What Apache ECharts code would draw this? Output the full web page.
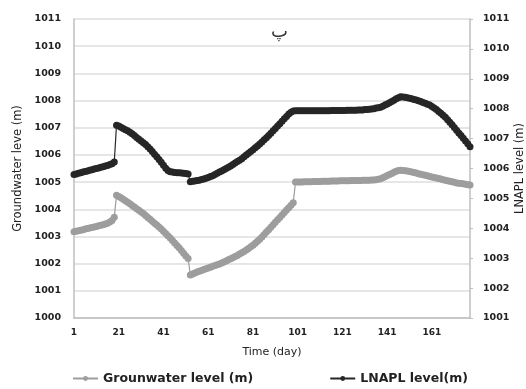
<!DOCTYPE html>
<html><head><meta charset="utf-8">
<script src="https://cdn.jsdelivr.net/npm/echarts@6/dist/echarts.min.js"></script>
<style>html,body{margin:0;padding:0;background:#fff}#c{width:526px;height:389px}</style>
</head><body><div id="c"></div>
<script>
// Days 1..178
var days = [];
for (var i = 1; i <= 178; i++) days.push(String(i));

// Groundwater level (m), left axis
var groundwater = [
1003.17,1003.19,1003.21,1003.23,1003.25,1003.27,1003.29,1003.31,1003.33,1003.35,
1003.37,1003.39,1003.41,1003.43,1003.46,1003.49,1003.53,1003.59,1003.71,
1004.52,1004.47,1004.42,1004.37,1004.31,1004.26,1004.20,1004.14,1004.08,1004.02,
1003.96,1003.90,1003.84,1003.77,1003.70,1003.63,1003.56,1003.49,1003.42,1003.35,
1003.27,1003.19,1003.11,1003.03,1002.94,1002.85,1002.76,1002.67,1002.58,1002.48,
1002.38,1002.28,1002.19,
1001.58,1001.62,1001.66,1001.69,1001.72,1001.75,1001.78,1001.81,1001.84,1001.87,
1001.90,1001.93,1001.96,1001.99,1002.02,1002.06,1002.10,1002.14,1002.18,1002.22,
1002.26,1002.30,1002.35,1002.40,1002.45,1002.50,1002.56,1002.62,1002.68,1002.75,
1002.82,1002.90,1002.98,1003.07,1003.16,1003.25,1003.34,1003.43,1003.52,1003.61,
1003.70,1003.79,1003.88,1003.97,1004.06,1004.15,1004.24,
1005.00,1005.00,1005.00,1005.00,1005.01,1005.01,1005.01,1005.01,1005.02,1005.02,
1005.02,1005.02,1005.03,1005.03,1005.03,1005.03,1005.04,1005.04,1005.04,1005.04,
1005.05,1005.05,1005.05,1005.05,1005.05,1005.06,1005.06,1005.06,1005.06,1005.06,
1005.07,1005.07,1005.07,1005.07,1005.08,1005.08,1005.09,1005.10,1005.12,
1005.16,1005.20,1005.24,1005.28,1005.32,1005.36,1005.40,1005.43,1005.44,
1005.43,1005.42,1005.41,1005.39,1005.37,1005.35,1005.33,1005.31,1005.29,1005.27,1005.25,1005.23,1005.21,
1005.19,1005.17,1005.15,1005.13,1005.11,1005.09,1005.07,1005.05,1005.03,1005.01,
1004.99,1004.97,1004.96,1004.95,1004.94,1004.92,1004.90,1004.89
];

// LNAPL level (m), right axis
var lnapl = [
1005.80,1005.82,1005.84,1005.86,1005.88,1005.90,1005.92,1005.94,1005.96,1005.98,
1006.00,1006.02,1006.04,1006.06,1006.08,1006.10,1006.13,1006.16,1006.22,
1007.45,1007.42,1007.38,1007.34,1007.30,1007.26,1007.21,1007.16,1007.10,1007.04,
1006.98,1006.92,1006.86,1006.80,1006.73,1006.65,1006.57,1006.48,1006.39,1006.30,
1006.21,1006.11,1006.01,1005.93,1005.89,1005.88,1005.87,1005.86,1005.86,1005.85,
1005.84,1005.83,1005.82,
1005.56,1005.57,1005.58,1005.60,1005.61,1005.63,1005.65,1005.67,1005.70,1005.73,
1005.76,1005.80,1005.84,1005.88,1005.92,1005.96,1006.00,1006.04,1006.08,1006.13,
1006.18,1006.23,1006.28,1006.33,1006.39,1006.45,1006.51,1006.57,1006.63,1006.69,
1006.75,1006.82,1006.89,1006.96,1007.03,1007.10,1007.18,1007.26,1007.34,1007.42,
1007.50,1007.58,1007.66,1007.74,1007.82,1007.88,1007.92,
1007.93,1007.93,1007.93,1007.93,1007.93,1007.93,1007.93,1007.93,1007.93,1007.93,
1007.93,1007.93,1007.93,1007.93,1007.93,1007.93,1007.94,1007.94,1007.94,1007.94,
1007.94,1007.94,1007.94,1007.95,1007.95,1007.95,1007.95,1007.95,1007.96,1007.96,
1007.96,1007.97,1007.97,1007.98,1007.99,1008.00,1008.02,1008.03,1008.05,
1008.08,1008.12,1008.16,1008.20,1008.24,1008.28,1008.33,1008.37,1008.40,
1008.39,1008.38,1008.37,1008.35,1008.33,1008.31,1008.29,1008.27,1008.24,1008.21,1008.18,1008.15,1008.12,
1008.07,1008.02,1007.97,1007.91,1007.85,1007.78,1007.71,1007.63,1007.55,1007.46,
1007.37,1007.28,1007.19,1007.10,1007.01,1006.92,1006.83,1006.73
];

var seriesNames = ['Grounwater level (m)', 'LNAPL level(m)'];
var leftTitle = 'Groundwater leve (m)';
var rightTitle = 'LNAPL level (m)';
var xTitle = 'Time (day)';
var panelLabel = 'پ';

var FONT = '"DejaVu Sans", sans-serif';
function plain(v) { return String(v); }
var chart = echarts.init(document.getElementById('c'), null, {renderer: 'canvas'});
chart.setOption({
  animation: false,
  backgroundColor: '#fff',
  title: {
    text: panelLabel, left: 266, top: 18,
    textStyle: {fontFamily: '"DejaVu Sans"', fontSize: 18, fontWeight: 'normal', color: '#333'}
  },
  grid: {left: 74, right: 56, top: 19, bottom: 71, containLabel: false, outerBoundsMode: 'none'},
  legend: {
    bottom: -1, left: 67, itemGap: 76, itemWidth: 25, itemHeight: 6,
    textStyle: {fontFamily: FONT, fontSize: 12.5, fontWeight: 'bold', color: '#222'},
    data: seriesNames
  },
  xAxis: {
    type: 'category', data: days, boundaryGap: false,
    name: xTitle, nameLocation: 'middle', nameGap: 29,
    nameTextStyle: {fontFamily: FONT, fontSize: 11, color: '#222'},
    axisLine: {lineStyle: {color: '#bfbfbf', width: 1.5}},
    axisTick: {show: false},
    axisLabel: {interval: 19, margin: 10, fontFamily: FONT, fontSize: 9, fontWeight: 'bold', color: '#222'},
    splitLine: {show: false}
  },
  yAxis: [{
    type: 'value', min: 1000, max: 1011, interval: 1, position: 'left',
    name: leftTitle, nameLocation: 'middle', nameGap: 46, nameRotate: 90,
    nameTextStyle: {fontFamily: FONT, fontSize: 11.5, color: '#222'},
    axisLine: {show: true, lineStyle: {color: '#bfbfbf', width: 1.5}},
    axisTick: {show: false},
    axisLabel: {margin: 13, formatter: plain, fontFamily: FONT, fontSize: 9.5, fontWeight: 'bold', color: '#222'},
    splitLine: {lineStyle: {color: '#dedede', width: 1.5}}
  }, {
    type: 'value', min: 1001, max: 1011, interval: 1, position: 'right',
    name: rightTitle, nameLocation: 'middle', nameGap: 44, nameRotate: 90,
    nameMoveOverlap: false,
    nameTextStyle: {fontFamily: FONT, fontSize: 11.5, color: '#222'},
    axisLine: {show: true, lineStyle: {color: '#bfbfbf', width: 1.5}},
    axisTick: {show: true, length: 3, lineStyle: {color: '#bfbfbf'}},
    axisLabel: {margin: 13, formatter: plain, fontFamily: FONT, fontSize: 9.5, fontWeight: 'bold', color: '#222'},
    splitLine: {show: false}
  }],
  series: [{
    name: seriesNames[0], type: 'line', yAxisIndex: 0, data: groundwater,
    symbol: 'circle', symbolSize: 7, showSymbol: true, showAllSymbol: true,
    lineStyle: {color: '#9d9d9d', width: 1.2},
    itemStyle: {color: '#9d9d9d', borderWidth: 0},
    emphasis: {disabled: true}
  }, {
    name: seriesNames[1], type: 'line', yAxisIndex: 1, data: lnapl,
    symbol: 'circle', symbolSize: 7, showSymbol: true, showAllSymbol: true,
    lineStyle: {color: '#262626', width: 1.2},
    itemStyle: {color: '#262626', borderWidth: 0},
    emphasis: {disabled: true}
  }]
});
</script></body></html>
